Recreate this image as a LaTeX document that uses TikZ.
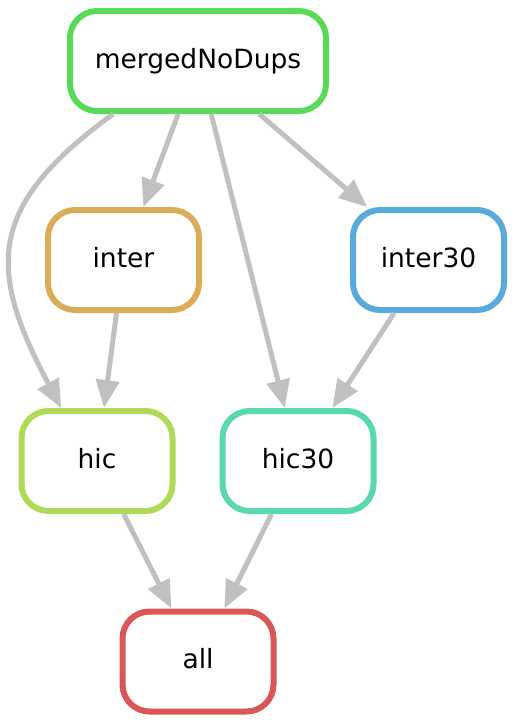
\documentclass[tikz,border=0pt]{standalone}
\usepackage{fontspec}
\setmainfont{DejaVu Sans}
\usepackage{tikz}
\usetikzlibrary{positioning}
\usetikzlibrary{arrows.meta}
\definecolor{c00}{RGB}{217,87,87}
\definecolor{c11}{RGB}{217,172,87}
\definecolor{c22}{RGB}{175,217,87}
\definecolor{c33}{RGB}{89,217,87}
\definecolor{c44}{RGB}{87,217,170}
\definecolor{c56}{RGB}{87,170,217}
\definecolor{depgrey}{RGB}{192,192,192}
\tikzset{
  rule/.style = {rectangle, rounded corners=27pt, draw, line width=6pt,
   fill=white, minimum width=151pt, minimum height=100pt,
   font=\fontsize{26.5}{32}\selectfont, text height=20pt, text depth=6pt},
  dep/.style = {draw=depgrey, line width=5pt,
   -{Triangle[length=28pt,width=23pt]}},
}
\begin{document}
\begin{tikzpicture}[x=1pt,y=1pt]
\useasboundingbox (0,0) rectangle (514,-723);
\node at(198,-61) (merged) [rule, draw=c33, minimum width=256pt] {mergedNoDups};
\node at(123.5,-260) (inter) [rule, draw=c11] {inter};
\node at(428.5,-260) (inter30) [rule, draw=c56] {inter30};
\node at(97,-461) (hic) [rule, draw=c22] {hic};
\node at(298,-461) (hic30) [rule, draw=c44] {hic30};
\node at(198,-661.5) (all) [rule, draw=c00] {all};
\draw[dep] (merged.212) to[out=216, in=118, looseness=1.35] (hic.124);
\draw[dep] (merged) -- (inter);
\draw[dep] (merged) -- (hic30);
\draw[dep] (merged) -- (inter30);
\draw[dep] (inter) -- (hic);
\draw[dep] (inter30) -- (hic30);
\draw[dep] (hic) -- (all);
\draw[dep] (hic30) -- (all);
\end{tikzpicture}
\end{document}
